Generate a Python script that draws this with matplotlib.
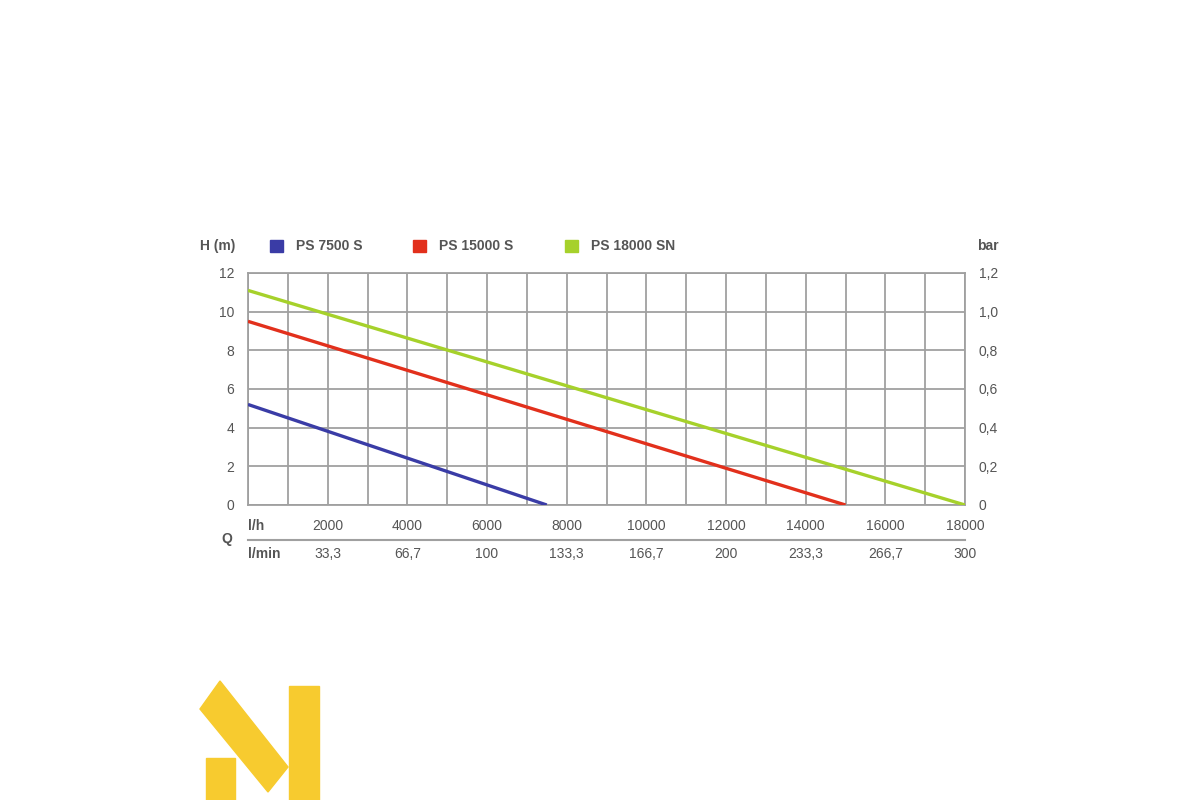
import matplotlib.pyplot as plt
import matplotlib.patches as mpatches
import matplotlib.transforms as mtransforms

# pump curves: flow (l/h) vs head (m)
q_7500 = [0, 7500]
h_7500 = [5.2, 0]
q_15000 = [0, 15000]
h_15000 = [9.5, 0]
q_18000 = [0, 18000]
h_18000 = [11.1, 0]

names = ['PS 7500 S', 'PS 15000 S', 'PS 18000 SN']
colors = ['#3a3ca6', '#e2301c', '#a6d12b']

h_ticks = [0, 2, 4, 6, 8, 10, 12]
bar_labels = ['0', '0,2', '0,4', '0,6', '0,8', '1,0', '1,2']
lh_ticks = [2000, 4000, 6000, 8000, 10000, 12000, 14000, 16000, 18000]
lmin_labels = ['33,3', '66,7', '100', '133,3', '166,7', '200', '233,3', '266,7', '300']

plt.rcParams['font.family'] = ['Liberation Sans', 'DejaVu Sans']
txt = '#555555'
grid = '#a0a0a0'

fig = plt.figure(figsize=(12, 8), dpi=100)
ax = fig.add_axes([248/1200, 1 - 505/800, 717/1200, 232/800])

ax.plot(q_7500, h_7500, color=colors[0], lw=2.4, solid_capstyle='butt', zorder=3)
ax.plot(q_15000, h_15000, color=colors[1], lw=2.4, solid_capstyle='butt', zorder=3)
ax.plot(q_18000, h_18000, color=colors[2], lw=2.4, solid_capstyle='butt', zorder=3)

ax.set_xlim(0, 18000)
ax.set_ylim(0, 12)
ax.set_xticks(range(0, 18001, 1000))
ax.set_yticks(h_ticks)
ax.grid(True, color=grid, lw=1.3)
ax.set_axisbelow(True)
for s in ax.spines.values():
    s.set_color(grid)
    s.set_linewidth(1.3)
ax.tick_params(axis='x', length=0, labelbottom=False)
ax.tick_params(axis='y', length=0, labelsize=10, labelcolor=txt, pad=10)

ax2 = ax.twinx()
ax2.set_ylim(0, 12)
ax2.set_yticks(h_ticks)
ax2.set_yticklabels(bar_labels)
ax2.tick_params(axis='y', length=0, labelsize=10, labelcolor=txt, pad=10)
for s in ax2.spines.values():
    s.set_visible(False)

# flow axis labels below the plot
tr = mtransforms.blended_transform_factory(ax.transData, ax.transAxes)
for q, lab in zip(lh_ticks, lmin_labels):
    ax.text(q, -0.09, f'{q}', transform=tr, ha='center', va='center', fontsize=10, color=txt)
    ax.text(q, -0.21, lab, transform=tr, ha='center', va='center', fontsize=10, color=txt)
ax.text(0, -0.09, 'l/h', transform=tr, ha='left', va='center', fontsize=10, color=txt, fontweight='bold')
ax.text(0, -0.21, 'l/min', transform=tr, ha='left', va='center', fontsize=10, color=txt, fontweight='bold')
ax.plot([0, 18000], [-0.15, -0.15], transform=tr, color=grid, lw=1.5, clip_on=False)
ax.text(-0.03, -0.145, 'Q', transform=ax.transAxes, ha='center', va='center', fontsize=10, color=txt, fontweight='bold')

# header row: axis names and legend
ax.text(-0.042, 1.115, 'H (m)', transform=ax.transAxes, ha='center', va='center', fontsize=10, color=txt, fontweight='bold')
ax.text(1.032, 1.115, 'bar', transform=ax.transAxes, ha='center', va='center', fontsize=10, color=txt, fontweight='bold')
leg_x = [270, 413, 565]
for x, name, c in zip(leg_x, names, colors):
    fig.patches.append(mpatches.Rectangle((x/1200, 1 - 252/800), 13/1200, 12/800,
                                          transform=fig.transFigure, color=c))
    fig.text((x + 26)/1200, 1 - 246/800, name, ha='left', va='center', fontsize=10,
             color=txt, fontweight='bold')

# yellow logo
logo = '#f7cb2f'
fig.patches.append(mpatches.Rectangle((206/1200, 0), 29/1200, 42/800,
                                      transform=fig.transFigure, color=logo))
fig.patches.append(mpatches.Rectangle((289/1200, 0), 30/1200, 114/800,
                                      transform=fig.transFigure, color=logo))
pts = [(220, 681), (200, 709), (268, 792), (288, 767)]
fig.patches.append(mpatches.Polygon([(x/1200, 1 - y/800) for x, y in pts],
                                    transform=fig.transFigure, color=logo))

fig.savefig('out.png', dpi=100, facecolor='white')
